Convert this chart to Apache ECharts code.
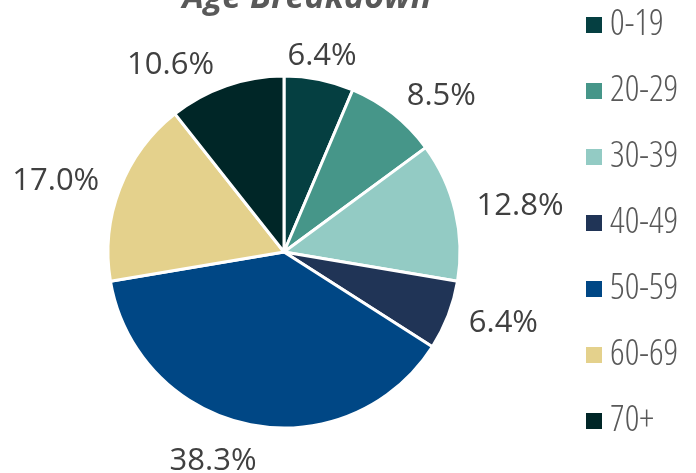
<!DOCTYPE html>
<html><head><meta charset="utf-8">
<script src="https://cdn.jsdelivr.net/npm/echarts@6/dist/echarts.min.js"></script>
<style>html,body{margin:0;padding:0;background:#fff}#c{width:696px;height:473px}</style>
</head><body><div id="c"></div>
<script>
const categories = ['0-19','20-29','30-39','40-49','50-59','60-69','70+'];
const counts = [3, 4, 6, 3, 18, 8, 5];
const colors = ['#053f41','#469689','#93cbc4','#203456','#004785','#e4d18c','#002627'];
const labelNudge = {'0-19': {dx: -36, dy: -2}, '50-59': {dx: 12, dy: 15}, '70+': {dx: -5}};
const chart = echarts.init(document.getElementById('c'));
chart.setOption({
  animation: false,
  title: {
    text: 'Age Breakdown', left: 302, top: -24, textAlign: 'center',
    textStyle: {fontFamily: 'Open Sans', fontWeight: 'bold', fontStyle: 'italic', fontSize: 34, color: '#595959'}
  },
  legend: {
    orient: 'vertical', left: 579, top: 2, itemWidth: 18, itemHeight: 18, itemGap: 30,
    icon: 'rect',
    data: categories,
    textStyle: {fontFamily: 'Open Sans', fontWeight: '350 condensed', fontSize: 36, color: '#595959', lineHeight: 36, padding: [0,0,0,2]}
  },
  series: [{
    type: 'pie', center: [284, 252], radius: 176, startAngle: 90, clockwise: true,
    data: categories.map((c, i) => ({name: c, value: counts[i], itemStyle: {color: colors[i]}})),
    itemStyle: {borderColor: '#fff', borderWidth: 3},
    label: {show: true, position: 'outside', formatter: p => p.percent.toFixed(1) + '%', overflow: 'none',
      fontFamily: 'Open Sans', fontSize: 31, color: '#404040', distanceToLabelLine: 0, bleedMargin: 0},
    labelLine: {show: false, length: 22, length2: 0},
    labelLayout: p => labelNudge[categories[p.dataIndex]] || {},
    percentPrecision: 1
  }]
});
</script></body></html>
